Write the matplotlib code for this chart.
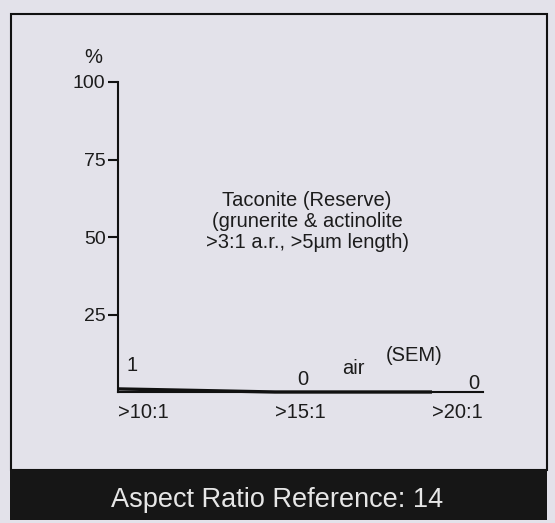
import matplotlib
matplotlib.use("Agg")
import matplotlib.pyplot as plt
from matplotlib.patches import Rectangle

# Fibre aspect-ratio distribution data
categories = [">10:1", ">15:1", ">20:1"]
percent = [1, 0, 0]
y_ticks = [25, 50, 75, 100]
title_text = "Taconite (Reserve)\n(grunerite & actinolite\n>3:1 a.r., >5\u00b5m length)"
band_text = "Aspect Ratio Reference: 14"

BG = "#e3e2ea"
INK = "#1c1c1c"
W, H = 555, 523
DPI = 100
FS = 14.5

plt.rcParams["font.family"] = ["Liberation Sans", "DejaVu Sans"]

fig = plt.figure(figsize=(W / DPI, H / DPI), dpi=DPI, facecolor=BG)

# Outer frame and the dark caption band
frame = fig.add_axes([0, 0, 1, 1], facecolor="none")
frame.set_xlim(0, W)
frame.set_ylim(H, 0)
frame.axis("off")
frame.add_patch(Rectangle((11, 14), 536, 456, fill=False, edgecolor="#111111", lw=1.5))
frame.add_patch(Rectangle((10, 470), 537, 50, facecolor="#161616", edgecolor="none"))
frame.text(277, 500, band_text, color="#e6e6e6", fontsize=19.5, ha="center", va="center")

# Chart area
x_left, x_right = 118, 483
y_top, y_bottom = 82, 392
unit = 157.0
ax = fig.add_axes([x_left / W, 1 - y_bottom / H, (x_right - x_left) / W, (y_bottom - y_top) / H])
ax.set_facecolor("none")
xpos = list(range(len(categories)))
ax.set_xlim(0, (x_right - x_left) / unit)
ax.set_ylim(0, 100)

ax.plot(xpos, percent, color="#111111", lw=2.4, solid_capstyle="butt", clip_on=False)

for s in ("top", "right"):
    ax.spines[s].set_visible(False)
for s in ("left", "bottom"):
    ax.spines[s].set_linewidth(1.5)
    ax.spines[s].set_color("#111111")

ax.set_yticks(y_ticks)
ax.set_yticklabels([str(v) for v in y_ticks], fontsize=14, color=INK)
ax.tick_params(axis="y", direction="out", length=7, width=1.5, pad=2, color="#111111")
ax.set_xticks([])

# Category labels, left-aligned under their positions
for xp, lab in zip(xpos, categories):
    ax.annotate(lab, (xp, 0), xytext=(0, -15), textcoords="offset points",
                ha="left", va="center", fontsize=FS, color=INK, annotation_clip=False)

# Value labels above each point
value_offsets = [(10, 17), (20, 9), (30, 6)]
for xp, v, off in zip(xpos, percent, value_offsets):
    ax.annotate(str(v), (xp, v), xytext=off, textcoords="offset points",
                ha="center", va="center", fontsize=FS, color=INK, annotation_clip=False)

ax.annotate("air", (1.5, 0), xytext=(0, 17), textcoords="offset points",
            ha="center", va="center", fontsize=FS, color=INK)
ax.annotate("(SEM)", (1.5, 0), xytext=(44, 26), textcoords="offset points",
            ha="center", va="center", fontsize=FS, color=INK)

ax.text(-0.068, 1.08, "%", transform=ax.transAxes, fontsize=FS, color=INK,
        ha="center", va="center")

ax.text((307 - x_left) / unit, 55, title_text, fontsize=FS, color=INK,
        ha="center", va="center", multialignment="center", linespacing=1.12)

fig.savefig("out.png", dpi=DPI, facecolor=BG)
